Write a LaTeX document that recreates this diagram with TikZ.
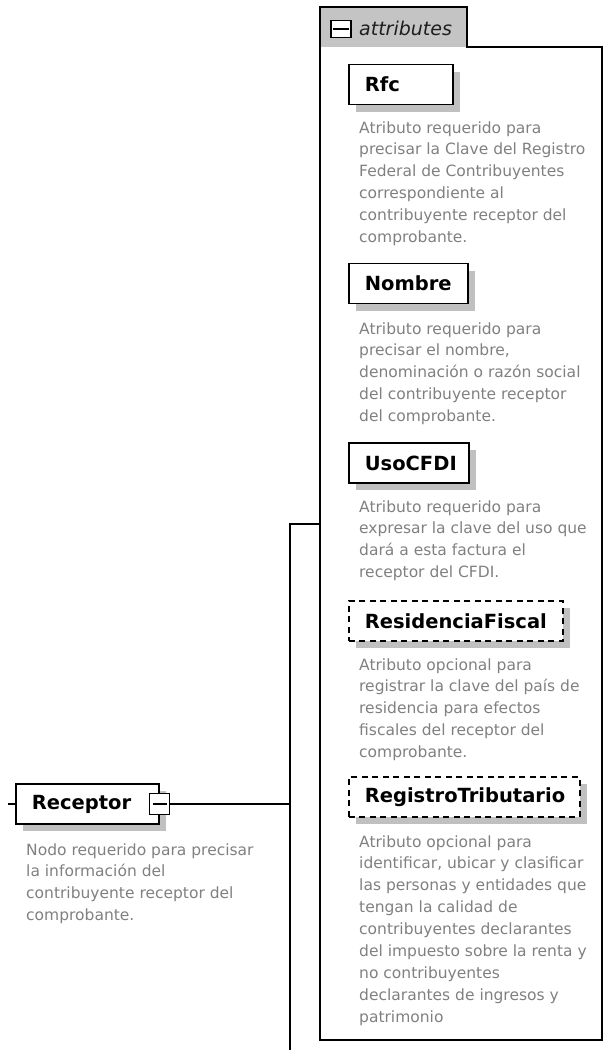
\documentclass[tikz,border=0pt]{standalone}
\usepackage{fontspec}
\setmainfont{DejaVu Sans}
\usetikzlibrary{shadows}
\definecolor{desccol}{RGB}{128,128,128}
\definecolor{shgray}{RGB}{192,192,192}
\definecolor{tabgray}{RGB}{196,196,196}
\newcommand\desctext[1]{\begin{tabular}[t]{@{}l@{}}#1\end{tabular}}
\tikzset{
  lbl/.style={draw=black, line width=1.7pt, fill=white, anchor=west, align=left,
    inner xsep=16pt, inner ysep=0pt, minimum height=40pt,
    font=\fontsize{19.5pt}{22pt}\selectfont\bfseries,
    drop shadow={shadow xshift=7pt, shadow yshift=-7pt, fill=shgray, draw=none, opacity=1}},
  optlbl/.style={lbl, dash pattern=on 6pt off 4.5pt},
  desc/.style={anchor=base west, inner sep=0pt, text=desccol,
    font=\fontsize{15.5pt}{21.9pt}\selectfont},
  wire/.style={draw=black, line width=1.7pt},
  expbox/.style={draw=black, line width=1.4pt, fill=white, minimum width=19pt,
    minimum height=19pt, inner sep=0pt}
}
\begin{document}
\begin{tikzpicture}[x=1pt, y=-1pt]
\useasboundingbox (0,0) rectangle (604,1050);
% attributes container
\fill[tabgray] (320,7) rectangle (467,47);
\draw[wire] (320,1040) -- (320,7) -- (467,7) -- (467,47) -- (602,47) -- (602,1040) -- cycle;
\node[expbox, minimum width=20pt, minimum height=17pt] (attrx) at (341,29) {};
\draw[line width=1.4pt] ([xshift=3pt]attrx.west) -- ([xshift=-3pt]attrx.east);
\node[anchor=base west, inner sep=0pt, font=\fontsize{19pt}{22pt}\selectfont\itshape, text={rgb,255:red,30;green,30;blue,30}] (attrt) at (359,35) {attributes};
\coordinate (attrL) at (320,524);

% attributes
\node[lbl, text width=72pt] (rfc) at (348,84.5) {Rfc};
\node[desc] (rfcd) at (359,133) {\desctext{Atributo requerido para\\precisar la Clave del Registro\\Federal de Contribuyentes\\correspondiente al\\contribuyente receptor del\\comprobante.}};

\node[lbl, text width=87pt] (nom) at (348,283.5) {Nombre};
\node[desc] (nomd) at (359,334) {\desctext{Atributo requerido para\\precisar el nombre,\\denominación o razón social\\del contribuyente receptor\\del comprobante.}};

\node[lbl, text width=88pt] (uso) at (348,463) {UsoCFDI};
\node[desc] (usod) at (359,512) {\desctext{Atributo requerido para\\expresar la clave del uso que\\dará a esta factura el\\receptor del CFDI.}};

\node[optlbl, text width=182pt] (res) at (348,621) {ResidenciaFiscal};
\node[desc] (resd) at (359,670) {\desctext{Atributo opcional para\\registrar la clave del país de\\residencia para efectos\\fiscales del receptor del\\comprobante.}};

\node[optlbl, text width=199pt] (reg) at (348,797) {RegistroTributario};
\node[desc] (regd) at (359,847) {\desctext{Atributo opcional para\\identificar, ubicar y clasificar\\las personas y entidades que\\tengan la calidad de\\contribuyentes declarantes\\del impuesto sobre la renta y\\no contribuyentes\\declarantes de ingresos y\\patrimonio}};

% Receptor
\node[lbl, text width=111pt] (rec) at (15,804) {Receptor};
\node[expbox, minimum width=20pt, minimum height=21pt] (recx) at (rec.east) {};
\draw[line width=1.4pt] ([xshift=3.5pt]recx.west) -- ([xshift=-3.5pt]recx.east);
\node[desc] (recd) at (26,855) {\desctext{Nodo requerido para precisar\\la información del\\contribuyente receptor del\\comprobante.}};

% connectors
\coordinate (stub) at (8,804);
\coordinate (jn) at (290,524);
\coordinate (jb) at (290,1050);
\draw[wire] (stub) -- (rec.west);
\draw[wire] (recx.east) -- (recx.east -| jn);
\draw[wire] (jb) -- (jn) -- (attrL);
\end{tikzpicture}
\end{document}
